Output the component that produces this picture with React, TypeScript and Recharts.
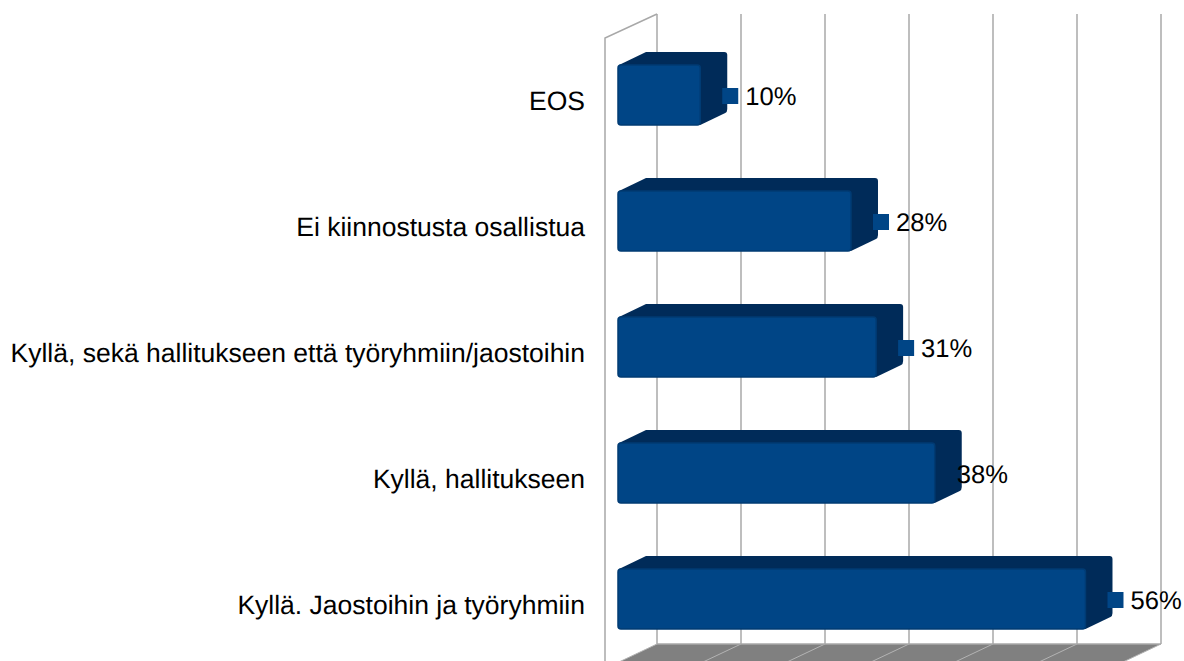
import { BarChart, Bar, XAxis, YAxis, CartesianGrid, LabelList, usePlotArea } from "recharts";

const categories = [
  "EOS",
  "Ei kiinnostusta osallistua",
  "Kyllä, sekä hallitukseen että työryhmiin/jaostoihin",
  "Kyllä, hallitukseen",
  "Kyllä. Jaostoihin ja työryhmiin",
];
const percentages = [10, 28, 31, 38, 56];
// the 38% label sits on its bar and has no key square in the picture
const hasKeySquare = [true, true, true, false, true];
const xTicks = [0, 10, 20, 30, 40, 50, 60];

const chartData = categories.map((name, i) => ({
  name,
  value: percentages[i],
  key: hasKeySquare[i],
}));

const FONT = '"Liberation Sans", Arial, sans-serif';
const BLUE = "#004586";
const WALL = "#a8a8a8";
const FRONT_DX = -39;
const FRONT_DY = 18;
const DEPTH_X = 27;
const DEPTH_Y = -13;

// front faces come out a little shorter than the back wall scale
const frontWidth = (width: number) => width * 0.997 - 1.5;

function Bar3D(props: any) {
  const { x, y, width, height } = props;
  const l = x + FRONT_DX;
  const t = y + FRONT_DY;
  const w = frontWidth(width);
  const r = l + w;
  const b = t + height;
  return (
    <g>
      <path
        d={`M${l + 1} ${t} L${l + DEPTH_X + 1} ${t + DEPTH_Y} L${r + DEPTH_X - 3} ${t + DEPTH_Y} Q${r + DEPTH_X} ${t + DEPTH_Y} ${r + DEPTH_X} ${t + DEPTH_Y + 3} L${r + DEPTH_X} ${b + DEPTH_Y - 3} Q${r + DEPTH_X} ${b + DEPTH_Y} ${r + DEPTH_X - 2} ${b + DEPTH_Y + 1} L${r} ${b} Z`}
        fill="#002b59"
      />
      <rect x={l} y={t} width={w} height={height} rx={3} fill={BLUE} stroke="#003b73" strokeWidth={1.5} />
    </g>
  );
}

function Walls() {
  const plot = usePlotArea();
  if (!plot) return null;
  const bottom = plot.y + plot.height;
  const step = plot.width / (xTicks.length - 1);
  const floorDx = -38;
  const floorDy = 18;
  return (
    <g>
      <polygon
        points={`${plot.x},${bottom} ${plot.x + plot.width},${bottom} ${plot.x + plot.width + floorDx},${bottom + floorDy} ${plot.x + floorDx},${bottom + floorDy}`}
        fill="#808080"
      />
      {xTicks.map((t, i) => (
        <line
          key={t}
          x1={plot.x + i * step}
          y1={bottom}
          x2={plot.x + i * step + floorDx}
          y2={bottom + floorDy}
          stroke="#b3b3b3"
        />
      ))}
      <polyline
        points={`${plot.x},${plot.y} ${plot.x - 52},${plot.y + 24} ${plot.x - 52},${bottom + floorDy}`}
        fill="none"
        stroke={WALL}
        strokeWidth={1.5}
      />
      <line x1={plot.x} y1={bottom} x2={plot.x + plot.width} y2={bottom} stroke={WALL} strokeWidth={1.5} />
    </g>
  );
}

function CategoryTick(props: any) {
  const { y, payload } = props;
  return (
    <text x={585} y={y + 33} textAnchor="end" fontFamily={FONT} fontSize={26.5} fill="#000" textRendering="geometricPrecision">
      {payload.value}
    </text>
  );
}

function ValueLabel(props: any) {
  const { x, y, width, height, index, value } = props;
  const right = x + FRONT_DX + frontWidth(width);
  const cy = y + height / 2 + 19;
  const showKey = hasKeySquare[index];
  return (
    <g>
      {showKey && <rect x={right + 22} y={cy - 8} width={16} height={16} fill={BLUE} />}
      <text
        x={right + (showKey ? 45 : 22)}
        y={cy + 8.5}
        fontFamily={FONT}
        fontSize={25.6}
        fill="#000"
        textRendering="geometricPrecision"
      >
        {value}%
      </text>
    </g>
  );
}

export default function App() {
  return (
    <div style={{ position: "absolute", left: 0, top: 0, width: 1184, height: 661, overflow: "hidden", background: "#fff" }}>
      <BarChart
        width={1184}
        height={661}
        layout="vertical"
        data={chartData}
        margin={{ top: 14, right: 23, left: 0, bottom: 17 }}
        barSize={60}
      >
        <Walls />
        <CartesianGrid horizontal={false} stroke={WALL} strokeWidth={1.5} />
        <XAxis type="number" domain={[0, 60]} ticks={xTicks} hide />
        <YAxis
          type="category"
          dataKey="name"
          width={657}
          axisLine={false}
          tickLine={false}
          interval={0}
          tick={<CategoryTick />}
        />
        <Bar dataKey="value" shape={<Bar3D />} isAnimationActive={false}>
          <LabelList dataKey="value" content={<ValueLabel />} />
        </Bar>
      </BarChart>
    </div>
  );
}
